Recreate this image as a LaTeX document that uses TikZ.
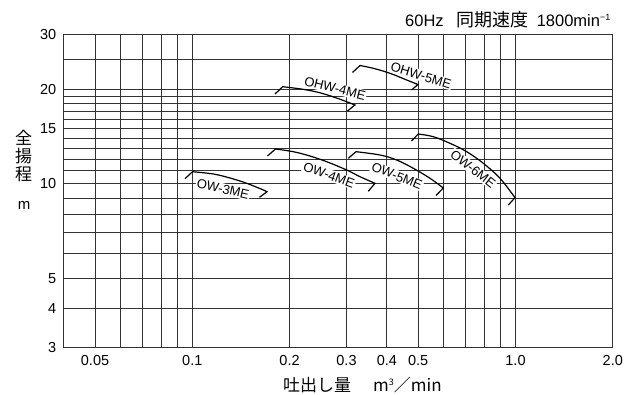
\documentclass[tikz,border=0pt]{standalone}
\usepackage{fontspec}
\setmainfont{Liberation Sans}
\newfontfamily\jp{Noto Sans CJK JP}
\begin{document}
\begin{tikzpicture}[x=1pt,y=-1pt,
  gridline/.style={line width=0.9pt, black!80},
  pumpcurve/.style={line width=1.2pt, black, line join=miter},
  lbl/.style={fill=white, inner sep=1pt, font=\fontsize{13}{13}\selectfont},
  ticklbl/.style={inner sep=0pt, font=\fontsize{14.5}{14.5}\selectfont},
  jptext/.style={inner sep=0pt, font=\jp\fontsize{17}{18.3}\selectfont}]
\useasboundingbox (0,0) rectangle (631,394);
% vertical grid lines (log scale, 0.04 .. 2.0)
\foreach \q in {0.05,0.06,0.07,0.08,0.09,0.1,0.2,0.3,0.4,0.5,0.6,0.7,0.8,0.9,1.0}{
  \pgfmathsetmacro\xx{192.3+323.2*log10(\q/0.1)}
  \draw[gridline] (\xx,34.3) -- (\xx,347.7);
}
% horizontal grid lines (log scale, 3 .. 30)
\foreach \h in {4,5,6,7,8,9,10,11,12,13,14,15,16,17,18,19,20,25}{
  \pgfmathsetmacro\yy{183.8-313.4*log10(\h/10)}
  \draw[gridline] (63.7,\yy) -- (612.7,\yy);
}
\draw[gridline] (63.7,34.3) rectangle (612.7,347.7);
% y tick labels
\foreach \h/\nm in {30/y30,20/y20,15/y15,10/y10,5/y5,4/y4,3/y3}{
  \pgfmathsetmacro\yy{183.8-313.4*log10(\h/10)}
  \node[ticklbl, anchor=east] (\nm) at (56.5,\yy) {\h};
}
% x tick labels
\foreach \q/\t/\nm in {0.05/0.05/x1,0.1/0.1/x2,0.2/0.2/x3,0.3/0.3/x4,0.4/0.4/x5,0.5/0.5/x6,1.0/1.0/x7,2.0/2.0/x8}{
  \pgfmathsetmacro\xx{192.3+323.2*log10(\q/0.1)}
  \node[ticklbl] (\nm) at (\xx,360.5) {\t};
}
% pump curves
\draw[pumpcurve] (185,178.7) -- plot[smooth, tension=0.6] coordinates {(192.5,171.7) (213.3,174) (230,178) (246.7,183.3) (261.7,189.3) (267,191.7)} -- (259.5,197.3);
\draw[pumpcurve] (267.5,156) -- plot[smooth, tension=0.6] coordinates {(275.5,149) (293.3,151.7) (310,156) (326.7,161.7) (346.7,170) (360,176.7) (375,183.3)} -- (368.3,191.3);
\draw[pumpcurve] (348.3,158.3) -- plot[smooth, tension=0.6] coordinates {(356,151.7) (380,155) (396.7,160) (413.3,168.3) (430,178.3) (443.3,188)} -- (436,195.5);
\draw[pumpcurve] (411.5,141) -- plot[smooth, tension=0.6] coordinates {(418.3,134) (433.3,136.7) (450,143.3) (466.7,151.7) (483.3,163.3) (500,178.3) (515,197.7)} -- (508.3,205);
\draw[pumpcurve] (275,94) -- plot[smooth, tension=0.6] coordinates {(282.7,86.7) (303,89.3) (320,92.8) (338,98.5) (355,105)} -- (347.5,111);
\draw[pumpcurve] (352.5,72.5) -- plot[smooth, tension=0.6] coordinates {(360,65.5) (373.3,68.3) (390,73.3) (406.7,80) (418,84.5)} -- (411.5,90);
% curve labels
\node[lbl, rotate=-13] (l3) at (223,189) {OW-3ME};
\node[lbl, rotate=-20] (l4) at (329,175) {OW-4ME};
\node[lbl, rotate=-22] (l5) at (397,176) {OW-5ME};
\node[lbl, rotate=-38] (l6) at (473,169) {OW-6ME};
\node[lbl, rotate=-14] (lh4) at (335,88.5) {OHW-4ME};
\node[lbl, rotate=-17] (lh5) at (421,75.5) {OHW-5ME};
% axis titles
\node[jptext, align=center] (ytitle) at (23.5,156) {全\\揚\\程};
\node[ticklbl, font=\fontsize{15}{15}\selectfont] (yunit) at (24,205) {m};
\node[jptext, anchor=base west] (xtitle) at (283,391) {吐出し量\hspace{22pt}m\raisebox{6pt}{\fontsize{9}{9}\selectfont 3}／min};
\node[inner sep=0pt, anchor=base east, font=\fontsize{16.5}{16.5}\selectfont] (title) at (610.5,26.7) {60Hz\hspace{13pt}{\jp\fontsize{18}{18}\selectfont 同期速度}\hspace{8pt}1800min\raisebox{6pt}{\fontsize{9}{9}\selectfont −1}};
\end{tikzpicture}
\end{document}
